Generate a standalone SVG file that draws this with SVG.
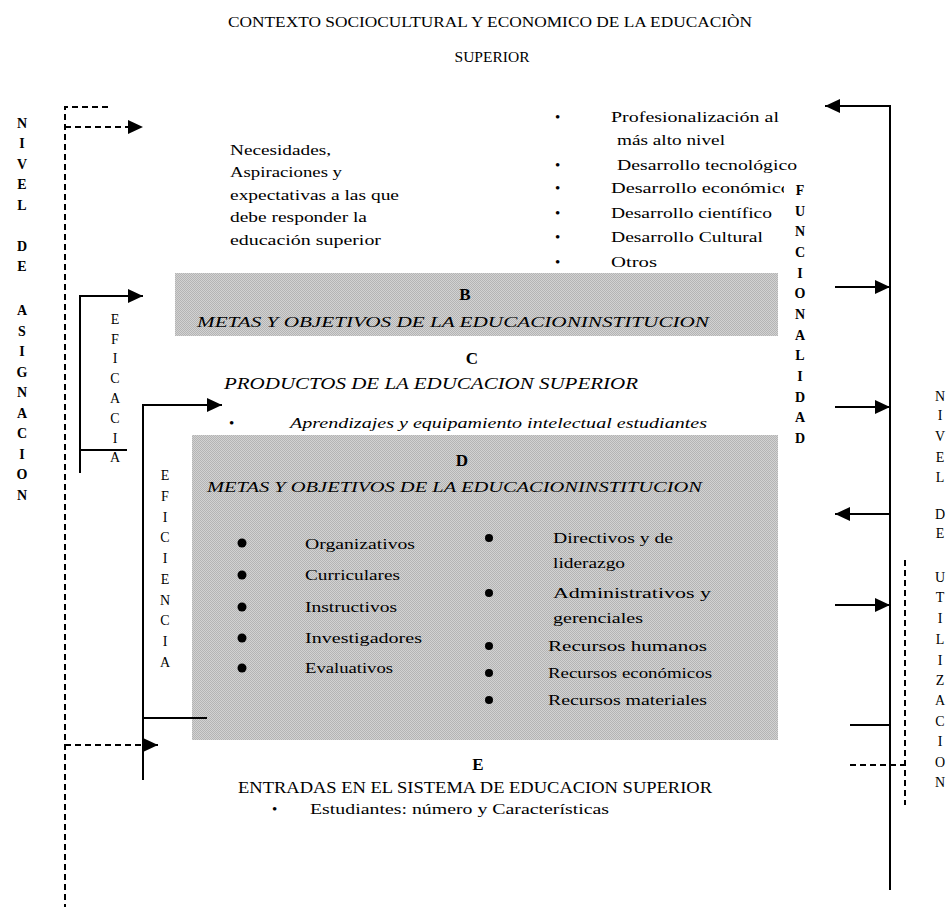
<svg xmlns="http://www.w3.org/2000/svg" width="951" height="907" viewBox="0 0 951 907">
<defs>
<style>
.t{font-family:"Liberation Serif",serif;font-size:15px;fill:#000}
.h{font-size:14px}
.it{font-style:italic}
.big{font-size:17px}
.lt{font-family:"Liberation Serif",serif;font-size:17px;font-weight:bold;text-anchor:middle;fill:#000}
.v{font-family:"Liberation Serif",serif;font-size:14px;text-anchor:middle;fill:#000}
.vb{font-weight:bold}
.ln{stroke:#000;stroke-width:2;fill:none}
.dl{stroke:#000;stroke-width:2;fill:none;stroke-dasharray:6 4}
.box{fill:url(#dots)}
</style>
<pattern id="dots" width="2" height="2" patternUnits="userSpaceOnUse">
<rect width="2" height="2" fill="#d2d2d2"/>
<rect width="1" height="1" fill="#b4b4b4"/>
<rect x="1" y="1" width="1" height="1" fill="#b4b4b4"/>
</pattern>
<marker id="ah" markerUnits="userSpaceOnUse" markerWidth="16" markerHeight="14" refX="15" refY="7" orient="auto">
<path d="M0,0 L15,7 L0,14 z" fill="#000"/>
</marker>
<clipPath id="clipEco"><rect x="600" y="175" width="184" height="25"/></clipPath>
</defs>
<rect width="951" height="907" fill="#fff"/>

<g id="header">
<text class="t h" x="490" y="27" text-anchor="middle" textLength="524" lengthAdjust="spacingAndGlyphs">CONTEXTO SOCIOCULTURAL Y ECONOMICO DE LA EDUCACIÒN</text>
<text class="t h" x="492" y="62" text-anchor="middle" textLength="75" lengthAdjust="spacingAndGlyphs">SUPERIOR</text>
</g>

<g id="necesidades">
<text class="t" x="230" y="155" textLength="101" lengthAdjust="spacingAndGlyphs">Necesidades,</text>
<text class="t" x="230" y="177" textLength="112" lengthAdjust="spacingAndGlyphs">Aspiraciones y</text>
<text class="t" x="230" y="200" textLength="169" lengthAdjust="spacingAndGlyphs">expectativas a las que</text>
<text class="t" x="230" y="222" textLength="137" lengthAdjust="spacingAndGlyphs">debe responder la</text>
<text class="t" x="230" y="245" textLength="151" lengthAdjust="spacingAndGlyphs">educación superior</text>
</g>

<g id="desarrollo">
<text class="t" x="555" y="122">•</text>
<text class="t" x="611" y="122" textLength="168" lengthAdjust="spacingAndGlyphs">Profesionalización al</text>
<text class="t" x="617" y="145" textLength="108" lengthAdjust="spacingAndGlyphs">más alto nivel</text>
<text class="t" x="555" y="170">•</text>
<text class="t" x="617" y="170" textLength="180" lengthAdjust="spacingAndGlyphs">Desarrollo tecnológico</text>
<text class="t" x="555" y="193">•</text>
<text class="t" x="611" y="193" textLength="180" lengthAdjust="spacingAndGlyphs" clip-path="url(#clipEco)">Desarrollo económico</text>
<text class="t" x="555" y="218">•</text>
<text class="t" x="611" y="218" textLength="161" lengthAdjust="spacingAndGlyphs">Desarrollo científico</text>
<text class="t" x="555" y="242">•</text>
<text class="t" x="611" y="242" textLength="152" lengthAdjust="spacingAndGlyphs">Desarrollo Cultural</text>
<text class="t" x="555" y="267">•</text>
<text class="t" x="611" y="267" textLength="46" lengthAdjust="spacingAndGlyphs">Otros</text>
</g>

<g id="nodeB">
<rect class="box" x="175" y="273" width="603" height="63"/>
<text class="lt" x="465" y="300">B</text>
<text class="t it" x="197" y="327" textLength="512" lengthAdjust="spacingAndGlyphs">METAS Y OBJETIVOS DE LA EDUCACIONINSTITUCION</text>
</g>

<g id="nodeC">
<text class="lt" x="472" y="364" font-weight="normal">C</text>
<text class="t it big" x="224" y="389" textLength="414" lengthAdjust="spacingAndGlyphs">PRODUCTOS DE LA EDUCACION SUPERIOR</text>
<text class="t" x="229" y="428">•</text>
<text class="t it" x="290" y="428" textLength="417" lengthAdjust="spacingAndGlyphs">Aprendizajes y equipamiento intelectual estudiantes</text>
</g>

<g id="nodeD">
<rect class="box" x="192" y="435" width="586" height="305"/>
<text class="lt" x="462" y="466">D</text>
<text class="t it" x="207" y="492" textLength="495" lengthAdjust="spacingAndGlyphs">METAS Y OBJETIVOS DE LA EDUCACIONINSTITUCION</text>
<g fill="#000">
<circle cx="242" cy="543" r="4.5"/><circle cx="242" cy="575" r="4.5"/><circle cx="242" cy="607" r="4.5"/><circle cx="242" cy="638" r="4.5"/><circle cx="242" cy="668" r="4.5"/>
<circle cx="489" cy="538" r="4"/><circle cx="489" cy="593" r="4"/><circle cx="489" cy="646" r="4"/><circle cx="489" cy="673" r="4"/><circle cx="489" cy="700" r="4"/>
</g>
<text class="t" x="305" y="549" textLength="110" lengthAdjust="spacingAndGlyphs">Organizativos</text>
<text class="t" x="305" y="580" textLength="95" lengthAdjust="spacingAndGlyphs">Curriculares</text>
<text class="t" x="305" y="612" textLength="92" lengthAdjust="spacingAndGlyphs">Instructivos</text>
<text class="t" x="305" y="643" textLength="117" lengthAdjust="spacingAndGlyphs">Investigadores</text>
<text class="t" x="305" y="673" textLength="88" lengthAdjust="spacingAndGlyphs">Evaluativos</text>
<text class="t" x="553" y="543" textLength="120" lengthAdjust="spacingAndGlyphs">Directivos y de</text>
<text class="t" x="553" y="568" textLength="72" lengthAdjust="spacingAndGlyphs">liderazgo</text>
<text class="t" x="553" y="598" textLength="158" lengthAdjust="spacingAndGlyphs">Administrativos y</text>
<text class="t" x="553" y="623" textLength="90" lengthAdjust="spacingAndGlyphs">gerenciales</text>
<text class="t" x="548" y="651" textLength="159" lengthAdjust="spacingAndGlyphs">Recursos humanos</text>
<text class="t" x="548" y="678" textLength="164" lengthAdjust="spacingAndGlyphs">Recursos económicos</text>
<text class="t" x="548" y="705" textLength="159" lengthAdjust="spacingAndGlyphs">Recursos materiales</text>
</g>

<g id="nodeE">
<text class="lt" x="478" y="770" font-weight="normal">E</text>
<text class="t big" x="238" y="793" textLength="474" lengthAdjust="spacingAndGlyphs">ENTRADAS EN EL SISTEMA DE EDUCACION SUPERIOR</text>
<text class="t" x="272" y="814">•</text>
<text class="t" x="310" y="814" textLength="299" lengthAdjust="spacingAndGlyphs">Estudiantes: número y Características</text>
</g>

<g id="labels">
<text class="v vb"><tspan x="22" y="128">N</tspan><tspan x="22" y="148">I</tspan><tspan x="22" y="169">V</tspan><tspan x="22" y="189">E</tspan><tspan x="22" y="210">L</tspan><tspan x="22" y="251">D</tspan><tspan x="22" y="271">E</tspan><tspan x="22" y="315">A</tspan><tspan x="22" y="336">S</tspan><tspan x="22" y="356">I</tspan><tspan x="22" y="377">G</tspan><tspan x="22" y="397">N</tspan><tspan x="22" y="418">A</tspan><tspan x="22" y="438">C</tspan><tspan x="22" y="459">I</tspan><tspan x="22" y="479">O</tspan><tspan x="22" y="500">N</tspan></text>
<text class="v"><tspan x="115" y="324">E</tspan><tspan x="115" y="344">F</tspan><tspan x="115" y="363">I</tspan><tspan x="115" y="383">C</tspan><tspan x="115" y="403">A</tspan><tspan x="115" y="423">C</tspan><tspan x="115" y="443">I</tspan><tspan x="115" y="462">A</tspan></text>
<text class="v"><tspan x="165" y="480">E</tspan><tspan x="165" y="501">F</tspan><tspan x="165" y="522">I</tspan><tspan x="165" y="542">C</tspan><tspan x="165" y="563">I</tspan><tspan x="165" y="584">E</tspan><tspan x="165" y="605">N</tspan><tspan x="165" y="625">C</tspan><tspan x="165" y="646">I</tspan><tspan x="165" y="667">A</tspan></text>
<text class="v vb"><tspan x="800" y="195">F</tspan><tspan x="800" y="216">U</tspan><tspan x="800" y="236">N</tspan><tspan x="800" y="257">C</tspan><tspan x="800" y="278">I</tspan><tspan x="800" y="298">O</tspan><tspan x="800" y="319">N</tspan><tspan x="800" y="340">A</tspan><tspan x="800" y="360">L</tspan><tspan x="800" y="381">I</tspan><tspan x="800" y="402">D</tspan><tspan x="800" y="422">A</tspan><tspan x="800" y="443">D</tspan></text>
<text class="v"><tspan x="940" y="401">N</tspan><tspan x="940" y="420">I</tspan><tspan x="940" y="441">V</tspan><tspan x="940" y="462">E</tspan><tspan x="940" y="482">L</tspan><tspan x="940" y="519">D</tspan><tspan x="940" y="538">E</tspan><tspan x="940" y="582">U</tspan><tspan x="940" y="602">T</tspan><tspan x="940" y="623">I</tspan><tspan x="940" y="644">L</tspan><tspan x="940" y="665">I</tspan><tspan x="940" y="685">Z</tspan><tspan x="940" y="705">A</tspan><tspan x="940" y="726">C</tspan><tspan x="940" y="746">I</tspan><tspan x="940" y="767">O</tspan><tspan x="940" y="787">N</tspan></text>
</g>

<g id="connectors">
<path class="dl" d="M108,107 H65 V907"/>
<path class="dl" d="M65,127 H143" marker-end="url(#ah)"/>
<path class="dl" d="M65,745 H158" marker-end="url(#ah)"/>
<path class="ln" d="M127,450 H80"/>
<path class="ln" d="M80,473 V296 H143" marker-end="url(#ah)"/>
<path class="ln" d="M143,780 V405 H222" marker-end="url(#ah)"/>
<path class="ln" d="M143,718 H207"/>
<path class="ln" d="M890,890 V106 H825" marker-end="url(#ah)"/>
<path class="ln" d="M835,287 H890" marker-end="url(#ah)"/>
<path class="ln" d="M835,407 H890" marker-end="url(#ah)"/>
<path class="ln" d="M890,514 H835" marker-end="url(#ah)"/>
<path class="ln" d="M835,605 H890" marker-end="url(#ah)"/>
<path class="ln" d="M850,725 H890"/>
<path class="dl" d="M850,765 H905"/>
<path class="dl" d="M905,560 V805"/>
</g>
</svg>
